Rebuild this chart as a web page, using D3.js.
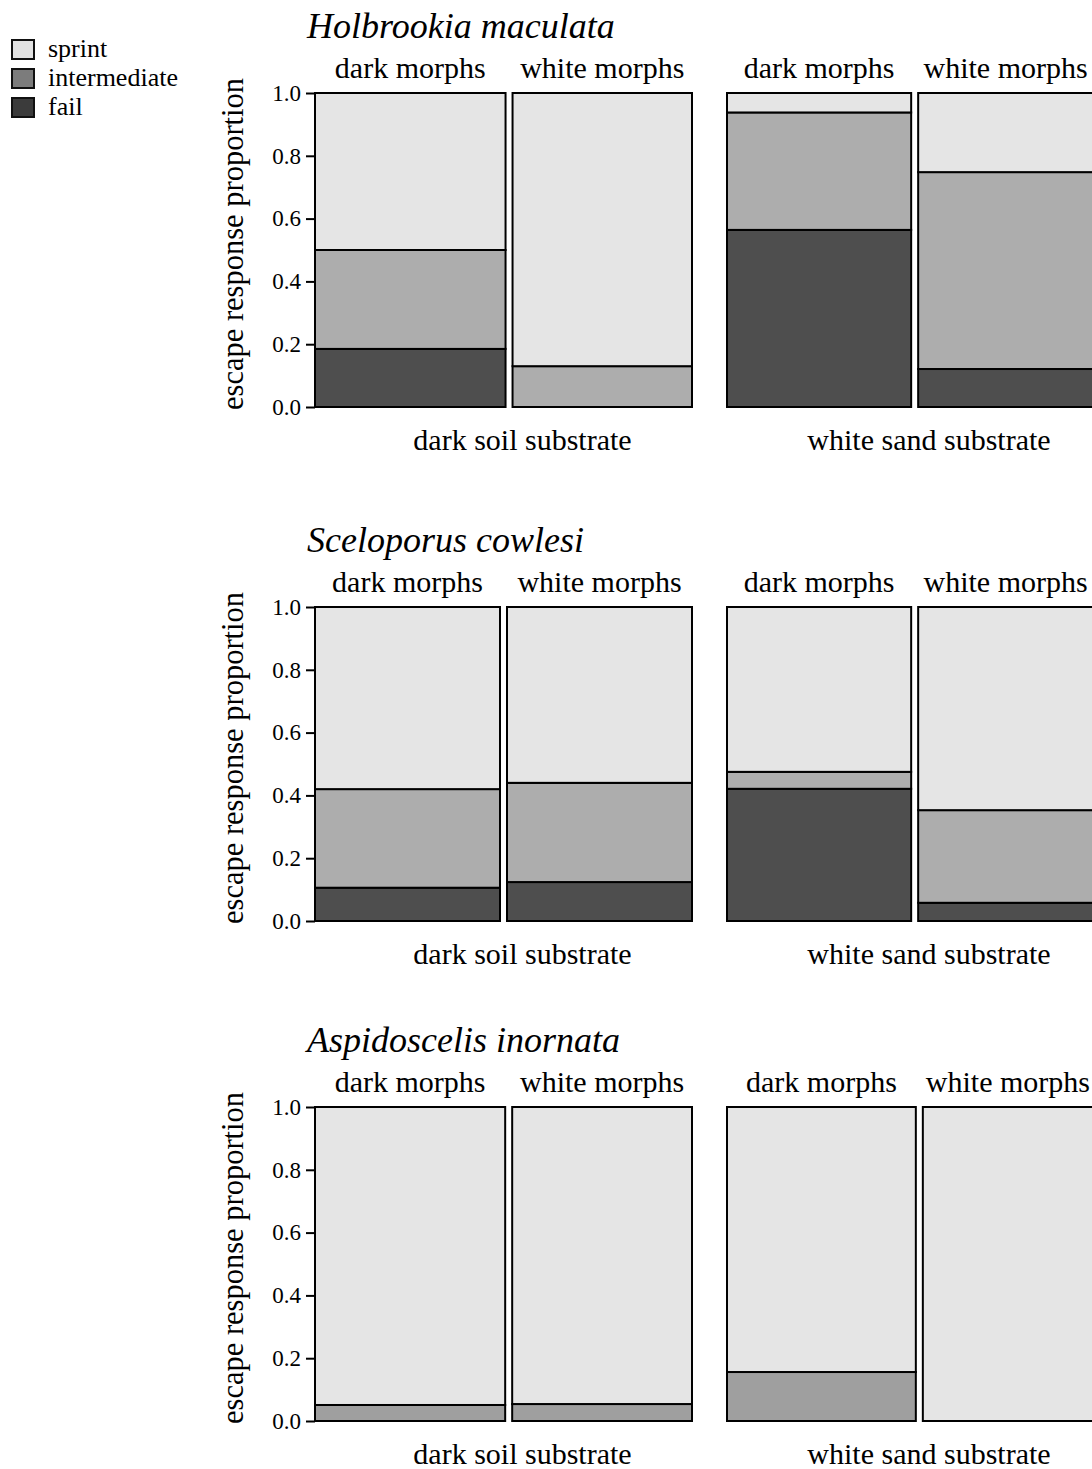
<!DOCTYPE html>
<html>
<head>
<meta charset="utf-8">
<script src="https://cdn.jsdelivr.net/npm/d3@7"></script>
<style>
  html, body { margin: 0; padding: 0; background: #ffffff; }
  svg { display: block; }
  text { font-family: "Liberation Serif", "Times New Roman", serif; fill: #000; }
</style>
</head>
<body>
<svg id="chart" width="1092" height="1469"></svg>
<script>
// Escape responses of lizard colour morphs tested on two substrates.
const species = ["Holbrookia maculata", "Sceloporus cowlesi", "Aspidoscelis inornata"];
const substrates = ["dark soil substrate", "white sand substrate"];
const morphs = ["dark morphs", "white morphs"];
const responses = ["sprint", "intermediate", "fail"];

// Proportions per species -> substrate -> [dark morphs, white morphs]
const failProp = [
  [[0.185, 0.000], [0.564, 0.121]],
  [[0.106, 0.124], [0.421, 0.058]],
  [[0.000, 0.000], [0.000, 0.000]]
];
const intermediateProp = [
  [[0.315, 0.130], [0.374, 0.627]],
  [[0.314, 0.316], [0.054, 0.295]],
  [[0.051, 0.054], [0.156, 0.000]]
];
const sprintProp = [
  [[0.500, 0.870], [0.062, 0.252]],
  [[0.580, 0.560], [0.525, 0.647]],
  [[0.949, 0.946], [0.844, 1.000]]
];
// Share of each substrate's sample made up of dark morphs (sets bar widths)
const darkMorphShare = [
  [0.515, 0.513],
  [0.500, 0.513],
  [0.514, 0.526]
];
const yTicks = [0, 0.2, 0.4, 0.6, 0.8, 1.0];

// ---- layout ----
const svg = d3.select("#chart");
const panelTops = [93, 607, 1107];
const panelHeight = 314;
const subExtent = [[315, 692], [727, 1093]];
const barGap = 7;
const fills = { sprint: "#e5e5e5", fail: "#4e4e4e" };
const intermediateFill = ["#adadad", "#adadad", "#9f9f9f"];
const legendFill = { sprint: "#e2e2e2", intermediate: "#7c7c7c", fail: "#3b3b3b" };

// legend
const legend = svg.append("g").attr("class", "legend");
responses.forEach((r, i) => {
  const y0 = 40 + i * 29;
  legend.append("rect")
    .attr("x", 12).attr("y", y0).attr("width", 22).attr("height", 19)
    .attr("fill", legendFill[r]).attr("stroke", "#111").attr("stroke-width", 2);
  legend.append("text")
    .attr("x", 48).attr("y", y0 + 17)
    .attr("font-size", 26).text(r);
});

const stack = d3.stack().keys(["fail", "intermediate", "sprint"]);

species.forEach((sp, si) => {
  const top = panelTops[si];
  const y = d3.scaleLinear().domain([0, 1]).range([top + panelHeight, top]);
  const g = svg.append("g").attr("class", "panel");

  // species title
  g.append("text")
    .attr("x", 307).attr("y", top - 55)
    .attr("font-size", 36).attr("font-style", "italic")
    .text(sp);

  // y axis (ticks only)
  const axis = g.append("g")
    .attr("transform", `translate(${subExtent[0][0]},0)`)
    .call(d3.axisLeft(y).tickValues(yTicks).tickFormat(d3.format(".1f"))
      .tickSize(9).tickPadding(5));
  axis.select(".domain").remove();
  axis.selectAll(".tick line").attr("stroke", "#000").attr("stroke-width", 2);
  axis.selectAll(".tick text")
    .attr("font-size", 23).attr("fill", "#000");

  g.append("text")
    .attr("transform", `translate(243,${y(0.5) - 6}) rotate(-90)`)
    .attr("text-anchor", "middle")
    .attr("font-size", 30.5)
    .text("escape response proportion");

  substrates.forEach((sub, ki) => {
    const [x0, x1] = subExtent[ki];
    const share = d3.scaleLinear().domain([0, 1]).range([x0, x1 - barGap]);
    const split = share(darkMorphShare[si][ki]);
    const bars = morphs.map((m, mi) => ({
      morph: m,
      left: mi === 0 ? x0 : split + barGap,
      right: mi === 0 ? split : x1,
      fail: failProp[si][ki][mi],
      intermediate: intermediateProp[si][ki][mi],
      sprint: sprintProp[si][ki][mi]
    }));
    const series = stack(bars);

    series.forEach(s => {
      const fill = s.key === "intermediate" ? intermediateFill[si] : fills[s.key];
      g.selectAll(null)
        .data(s.filter(d => d[1] - d[0] > 0.0005))
        .join("rect")
        .attr("x", d => d.data.left)
        .attr("width", d => d.data.right - d.data.left)
        .attr("y", d => y(d[1]))
        .attr("height", d => y(d[0]) - y(d[1]))
        .attr("fill", fill)
        .attr("stroke", "#000")
        .attr("stroke-width", 2);
    });

    // morph headers
    bars.forEach(b => {
      g.append("text")
        .attr("x", (b.left + b.right) / 2)
        .attr("y", top - 15)
        .attr("text-anchor", "middle")
        .attr("font-size", 30)
        .text(b.morph);
    });

    // substrate label
    g.append("text")
      .attr("x", (x0 + x1) / 2 + 19)
      .attr("y", top + panelHeight + 43)
      .attr("text-anchor", "middle")
      .attr("font-size", 30)
      .text(sub);
  });
});
</script>
</body>
</html>
